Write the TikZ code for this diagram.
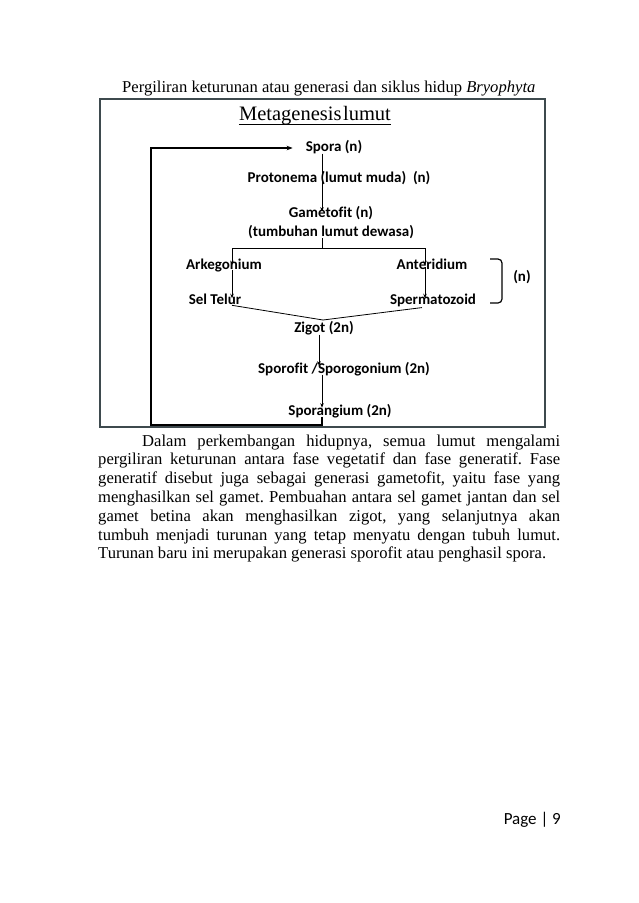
\documentclass[tikz,border=0pt]{standalone}
\usepackage{fontspec}
\setmainfont{Liberation Serif}
\newfontfamily\calfont[Ligatures=NoCommon]{Carlito}
\usetikzlibrary{arrows.meta}
\definecolor{boxcol}{RGB}{62,74,78}
\begin{document}
\frenchspacing
\begin{tikzpicture}[x=1pt,y=-1pt,
  lbl/.style={inner sep=0pt,anchor=base,font=\calfont\bfseries\fontsize{15}{18}\selectfont},
  thinarrow/.style={line width=0.8pt,-{Stealth[length=4.5pt,width=3.5pt]}},
  thinline/.style={line width=0.8pt},
  loopline/.style={line width=1.5pt},
]
\useasboundingbox[fill=white] (0,0) rectangle (638,903);
% caption
\node[anchor=base west,inner sep=0pt,font=\fontsize{16.6}{19}\selectfont] (cap) at (122,92)
  {Pergiliran keturunan atau generasi dan siklus hidup \textit{Bryophyta}};
% frame
\draw[boxcol,line width=1.5pt] (100,99) rectangle (545,427);
\node[anchor=base,inner sep=0pt,font=\fontsize{20.5}{24}\selectfont] (title) at (315,120)
  {Metagenesis\hspace{1.5pt}lumut};
\draw[line width=0.8pt] (title.south west |- 0,124) -- (title.south east |- 0,124);
% nodes (baselines)
\node[lbl] (spora) at (334,151) {Spora (n)};
\node[lbl] (proto) at (339,182) {Protonema (lumut muda)\ \ (n)};
\node[lbl] (gam) at (331,217) {Gametofit (n)};
\node[lbl] (tumb) at (331,236) {(tumbuhan lumut dewasa)};
\node[lbl] (ark) at (224,269) {Arkegonium};
\node[lbl] (ant) at (432,269) {Anteridium};
\node[lbl] (telur) at (215,304) {Sel Telur};
\node[lbl] (sperm) at (433,304) {Spermatozoid};
\node[lbl] (zigot) at (324,332) {Zigot (2n)};
\node[lbl] (sporo) at (344,373) {Sporofit /Sporogonium (2n)};
\node[lbl] (sporang) at (340,415) {Sporangium (2n)};
\node[lbl] (nlab) at (522,281) {(n)};
% helper coordinates
\coordinate (xa) at (322,0);
\coordinate (xl) at (232,0);
\coordinate (xr) at (425,0);
\coordinate (xz) at (319,0);
\coordinate (jn) at (322,248);
\coordinate (zm) at (323,320);
\coordinate (lp) at (151,0);
% connectors
\draw[thinarrow] (spora.south -| xa) -- ([yshift=-6pt]gam.north -| xa);
\draw[thinline] (tumb.south -| xa) -- (jn);
\draw[thinarrow] (jn) -| ([yshift=-7pt]ark.north -| xl);
\draw[thinarrow] (jn) -| ([yshift=-7pt]ant.north -| xr);
\draw[thinarrow] ([yshift=2pt]ark.south -| xl) -- ([yshift=-5pt]telur.north -| xl);
\draw[thinarrow] ([yshift=2pt]ant.south -| xr) -- ([yshift=-5pt]sperm.north -| xr);
\draw[thinline] ([yshift=-1pt]telur.south -| xl) -- (zm);
\draw[thinline] ([xshift=-3pt,yshift=-1pt]sperm.south -| xr) -- (zm);
\draw[thinarrow] (zigot.south -| xz) -- ([yshift=-4pt]sporo.north -| xz);
\draw[thinarrow] ([yshift=1pt]sporo.south -| xa) -- ([yshift=-4pt]sporang.north -| xa);
\draw[loopline,-{Stealth[length=6pt,width=4.5pt]}] ([yshift=1pt]sporang.south -| xa) -- (322,425) -- (lp |- 0,425) -- (lp |- 0,148) -- ([xshift=-13pt]spora.west |- 0,148);
% brace
\draw[line width=1.2pt,rounded corners=4pt] (490,259) -- (502,259) -- (502,303) -- (490,303);
% paragraph
\node[anchor=base west,inner sep=0pt,text width=462pt,align=justify,
  font=\fontsize{16.6}{18.8}\selectfont] (para) at (98,446)
  {\hspace*{44pt}Dalam perkembangan hidupnya, semua lumut mengalami\linebreak
   pergiliran keturunan antara fase vegetatif dan fase generatif. Fase\linebreak
   generatif disebut juga sebagai generasi gametofit, yaitu fase yang\linebreak
   menghasilkan sel gamet. Pembuahan antara sel gamet jantan dan sel\linebreak
   gamet betina akan menghasilkan zigot, yang selanjutnya akan\linebreak
   tumbuh menjadi turunan yang tetap menyatu dengan tubuh lumut.\linebreak
   Turunan baru ini merupakan generasi sporofit atau penghasil spora.};
% page number
\node[anchor=base east,inner sep=0pt,font=\calfont\fontsize{17}{20}\selectfont] (pg) at (561,824) {Page | 9};
\end{tikzpicture}
\end{document}
